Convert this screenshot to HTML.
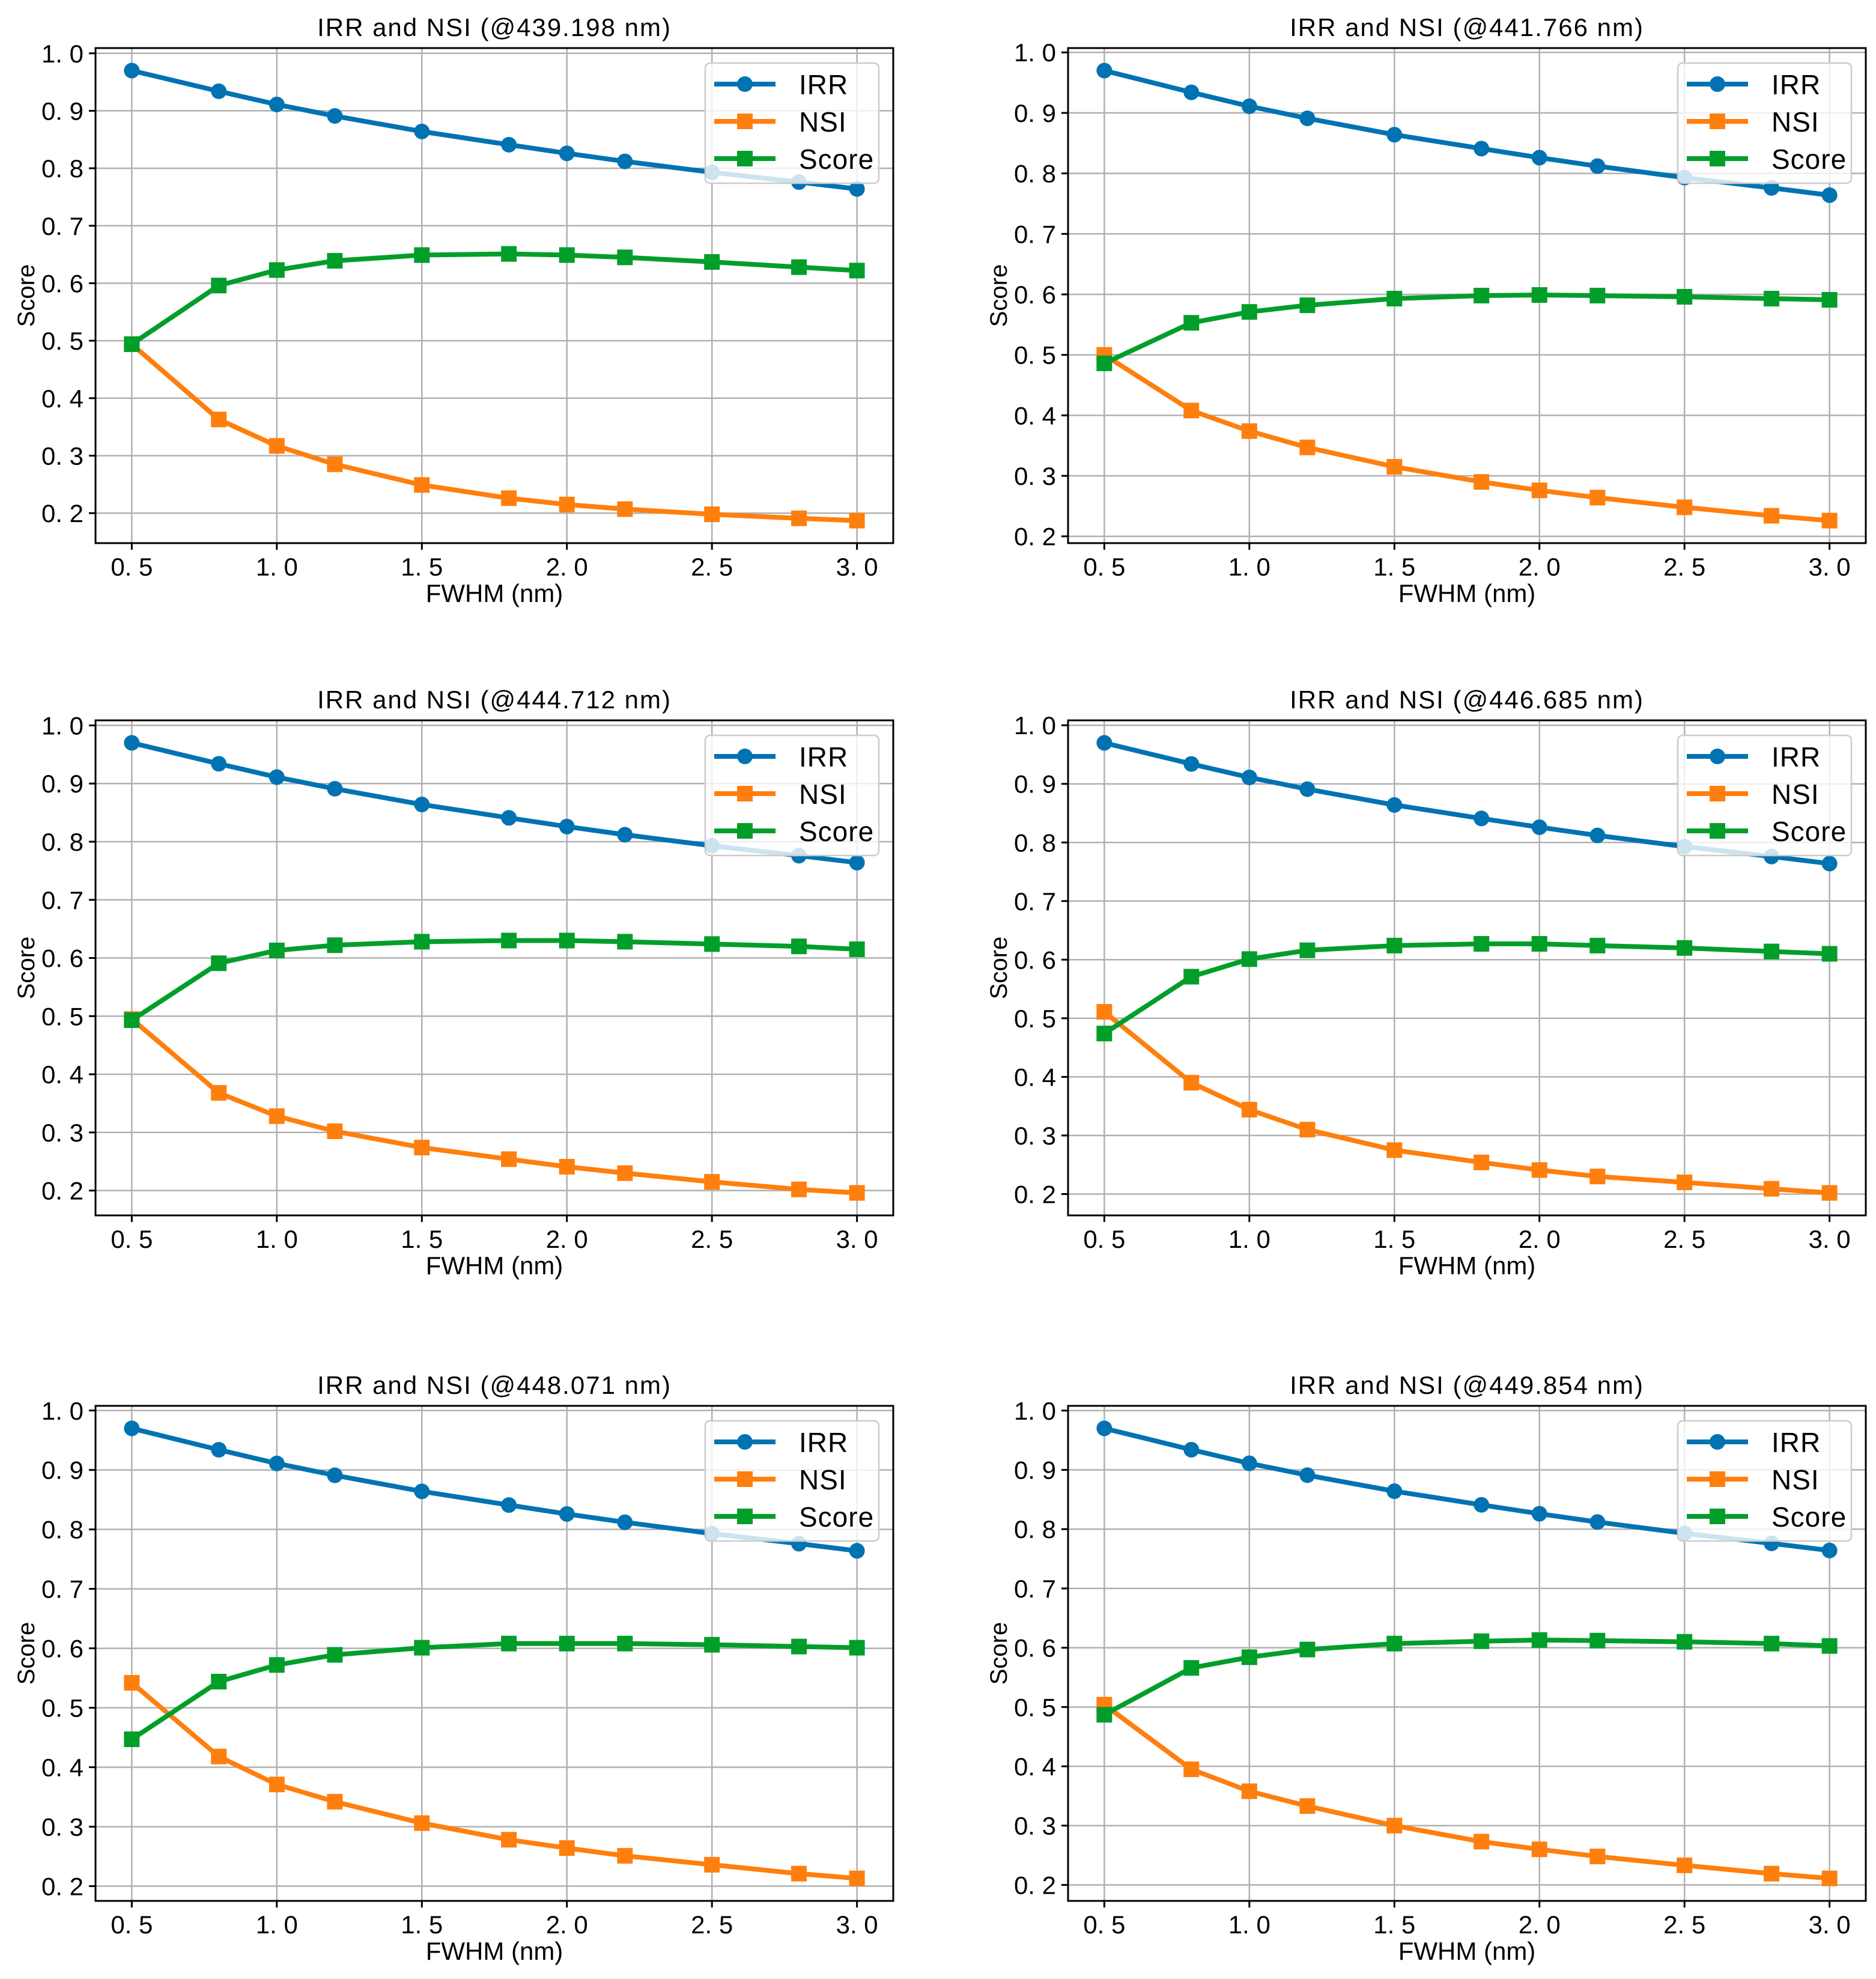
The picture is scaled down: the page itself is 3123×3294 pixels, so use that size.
<!DOCTYPE html>
<html><head><meta charset="utf-8"><style>
html,body{margin:0;padding:0;background:#fff;}
svg{display:block;}
text{font-family:"Liberation Sans","Noto Sans CJK SC",sans-serif;fill:#000;}
</style></head><body>
<svg id="fig" width="3123" height="3294" viewBox="0 0 3123 3294" xmlns="http://www.w3.org/2000/svg"></svg>
<script>
const fwhm = [0.5,0.8,1.0,1.2,1.5,1.8,2.0,2.2,2.5,2.8,3.0];
const xTicks = [0.5,1.0,1.5,2.0,2.5,3.0];
const yTicks = [0.2,0.3,0.4,0.5,0.6,0.7,0.8,0.9,1.0];
const titles = ["IRR and NSI (@439.198 nm)","IRR and NSI (@441.766 nm)","IRR and NSI (@444.712 nm)","IRR and NSI (@446.685 nm)","IRR and NSI (@448.071 nm)","IRR and NSI (@449.854 nm)"];
const irr1 = [0.970,0.934,0.911,0.891,0.864,0.841,0.826,0.812,0.793,0.776,0.764];
const irr2 = [0.970,0.934,0.911,0.891,0.864,0.841,0.826,0.812,0.793,0.776,0.764];
const irr3 = [0.970,0.934,0.911,0.891,0.864,0.841,0.826,0.812,0.793,0.776,0.764];
const irr4 = [0.970,0.934,0.911,0.891,0.864,0.841,0.826,0.812,0.793,0.776,0.764];
const irr5 = [0.970,0.934,0.911,0.891,0.864,0.841,0.826,0.812,0.793,0.776,0.764];
const irr6 = [0.970,0.934,0.911,0.891,0.864,0.841,0.826,0.812,0.793,0.776,0.764];
const nsi1 = [0.494,0.363,0.317,0.285,0.249,0.226,0.215,0.207,0.198,0.191,0.187];
const nsi2 = [0.500,0.408,0.374,0.347,0.315,0.290,0.276,0.264,0.248,0.234,0.226];
const nsi3 = [0.495,0.368,0.328,0.302,0.274,0.254,0.241,0.230,0.215,0.202,0.196];
const nsi4 = [0.511,0.390,0.344,0.310,0.275,0.254,0.241,0.230,0.220,0.209,0.202];
const nsi5 = [0.542,0.418,0.371,0.342,0.306,0.278,0.264,0.251,0.236,0.221,0.213];
const nsi6 = [0.504,0.395,0.358,0.333,0.300,0.273,0.260,0.248,0.233,0.219,0.211];
const score1 = [0.494,0.596,0.623,0.639,0.649,0.651,0.649,0.645,0.637,0.628,0.622];
const score2 = [0.486,0.553,0.571,0.582,0.593,0.598,0.599,0.598,0.596,0.593,0.591];
const score3 = [0.493,0.591,0.613,0.622,0.628,0.630,0.630,0.628,0.624,0.620,0.615];
const score4 = [0.474,0.571,0.601,0.616,0.624,0.627,0.627,0.624,0.620,0.614,0.610];
const score5 = [0.447,0.544,0.572,0.589,0.601,0.608,0.608,0.608,0.606,0.603,0.601];
const score6 = [0.487,0.566,0.584,0.597,0.607,0.611,0.613,0.612,0.610,0.607,0.603];
const irrAll=[irr1,irr2,irr3,irr4,irr5,irr6];
const nsiAll=[nsi1,nsi2,nsi3,nsi4,nsi5,nsi6];
const scoreAll=[score1,score2,score3,score4,score5,score6];

const NS="http://www.w3.org/2000/svg";
const fig=document.getElementById('fig');
function mk(tag,attrs,parent){const e=document.createElementNS(NS,tag);for(const k in attrs)e.setAttribute(k,attrs[k]);(parent||fig).appendChild(e);return e;}
const COLS=[159,1778], ROWS=[80,1199,2340], W=1328, H=824;
const C_IRR="#0173b2", C_NSI="#ff7f0e", C_SC="#029e2a";

for(let p=0;p<6;p++){
  const L=COLS[p%2], T=ROWS[Math.floor(p/2)];
  const irr=irrAll[p], nsi=nsiAll[p], sc=scoreAll[p];
  const all=irr.concat(nsi,sc);
  const dmin=Math.min(...all), dmax=Math.max(...all), rg=dmax-dmin;
  const y0=dmin-0.05*rg, y1=dmax+0.05*rg;
  const x0=0.375, x1=3.125;
  const X=v=>L+(v-x0)/(x1-x0)*W;
  const Y=v=>T+H-(v-y0)/(y1-y0)*H;
  const g=mk('g',{});
  
  
  const clipId='c'+p;
  const cp=mk('clipPath',{id:clipId},g);mk('rect',{x:L,y:T,width:W,height:H},cp);
  xTicks.forEach(v=>{const l=mk('line',{x1:X(v),x2:X(v),y1:T,y2:T+H,stroke:'#b0b0b0','stroke-width':2.5},g);});
  yTicks.forEach(v=>{if(v<y0||v>y1)return;const l=mk('line',{x1:L,x2:L+W,y1:Y(v),y2:Y(v),stroke:'#b0b0b0','stroke-width':2.5},g);});
  const series=[[irr,C_IRR,'circle','irr'],[nsi,C_NSI,'square','nsi'],[sc,C_SC,'square','score']];
  series.forEach(([d,c,m,nm])=>{
    const pts=d.map((v,i)=>X(fwhm[i])+','+Y(v)).join(' ');
    const pl=mk('polyline',{points:pts,fill:'none',stroke:c,'stroke-width':8,'stroke-linejoin':'round','clip-path':'url(#'+clipId+')'},g);
    
    
    d.forEach((v,i)=>{
      let e;
      if(m==='circle') e=mk('circle',{cx:X(fwhm[i]),cy:Y(v),r:13,fill:c},g);
      else e=mk('rect',{x:X(fwhm[i])-13,y:Y(v)-13,width:26,height:26,fill:c},g);
      
      
    });
  });
  const fr=mk('rect',{x:L,y:T,width:W,height:H,fill:'none',stroke:'#000','stroke-width':3},g);
  
  xTicks.forEach(v=>{
    mk('line',{x1:X(v),x2:X(v),y1:T+H,y2:T+H+11,stroke:'#000','stroke-width':3},g);
    const t=mk('text',{x:X(v),y:T+H+54,'text-anchor':'middle','font-size':42},g);t.textContent=v.toFixed(1).replace('.','. ');
    
  });
  yTicks.forEach(v=>{
    if(v<y0||v>y1)return;
    mk('line',{x1:L-11,x2:L,y1:Y(v),y2:Y(v),stroke:'#000','stroke-width':3},g);
    const t=mk('text',{x:L-20,y:Y(v)+15,'text-anchor':'end','font-size':42},g);t.textContent=v.toFixed(1).replace('.','. ');
    
  });
  const tt=mk('text',{x:L+W/2,y:T-20,'text-anchor':'middle','font-size':42,'letter-spacing':2},g);tt.textContent=titles[p];
  
  const xl=mk('text',{x:L+W/2,y:T+H+98,'text-anchor':'middle','font-size':42},g);xl.textContent='FWHM (nm)';
  
  const yl=mk('text',{x:0,y:0,'text-anchor':'middle','font-size':40,transform:'translate('+(L-102)+','+(T+H/2)+') rotate(-90)'},g);yl.textContent='Score';
  
  const lg=mk('g',{},g);
  
  
  const lx=L+W-313, ly=T+25;
  mk('rect',{x:lx,y:ly,width:289,height:200,rx:8,fill:'#fff','fill-opacity':0.8,stroke:'#cccccc','stroke-width':2.5},lg);
  const labels=['IRR','NSI','Score'];
  series.forEach(([d,c,m,nm],i)=>{
    const cy=ly+35+i*62;
    const en=mk('g',{},lg);
    
    
    mk('line',{x1:lx+15,x2:lx+117,y1:cy,y2:cy,stroke:c,'stroke-width':8},en);
    if(m==='circle')mk('circle',{cx:lx+66,cy:cy,r:13,fill:c},en);
    else mk('rect',{x:lx+53,y:cy-13,width:26,height:26,fill:c},en);
    const t=mk('text',{x:lx+156,y:cy+17,'font-size':46,'letter-spacing':1},en);t.textContent=labels[i];
  });
}
</script>
</body></html>
